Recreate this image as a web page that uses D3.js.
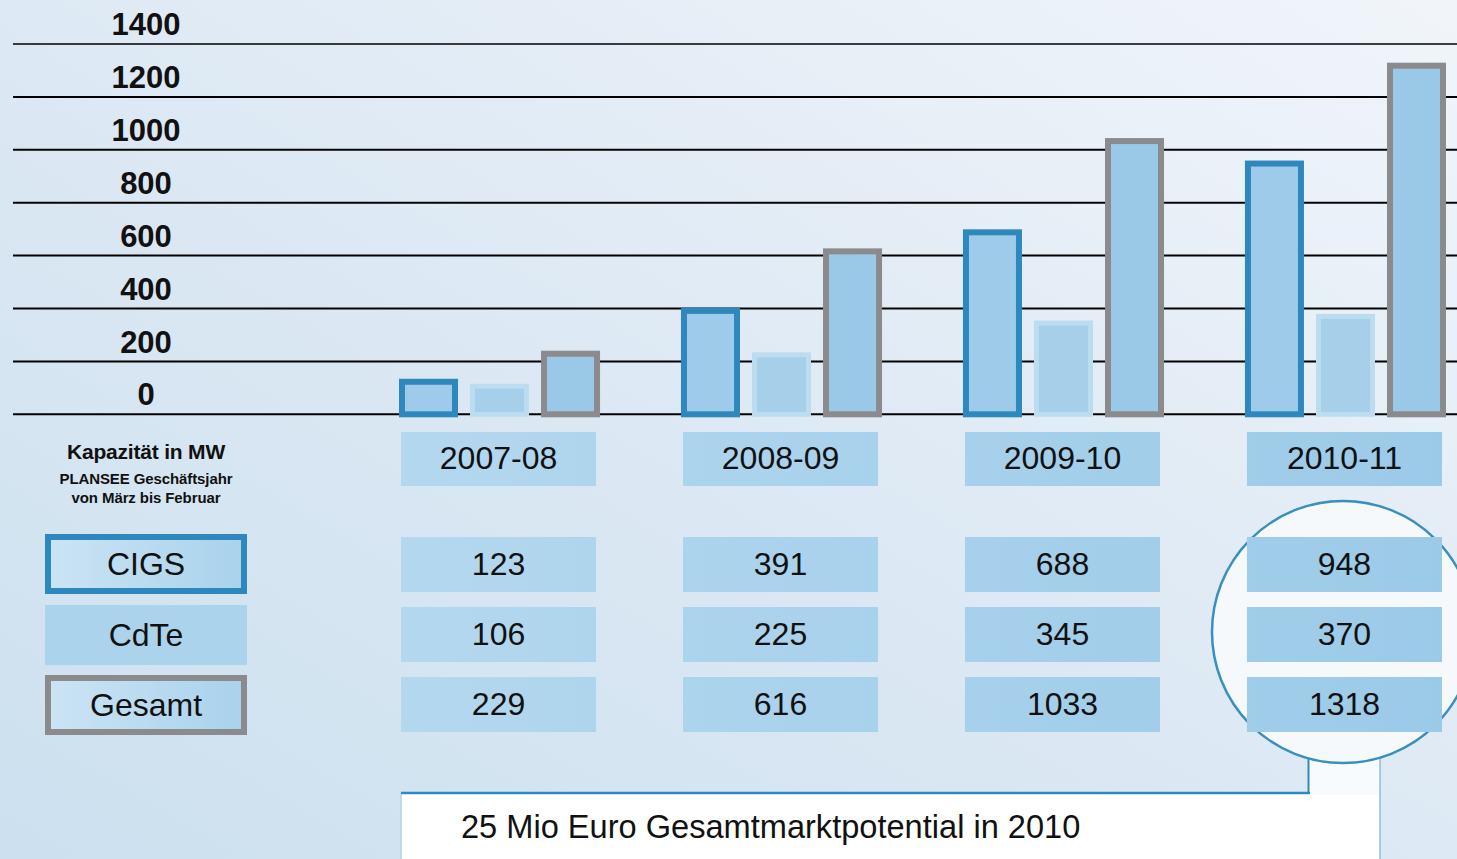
<!DOCTYPE html>
<html><head><meta charset="utf-8">
<script src="https://cdn.jsdelivr.net/npm/d3@7"></script>
<style>
html,body{margin:0;padding:0;background:#e3edf6;}
svg{display:block;}
text{font-family:"Liberation Sans",Arial,Helvetica,sans-serif;fill:#111;}
</style></head>
<body>
<svg id="c" width="1457" height="859"></svg>
<script>
const years = ["2007-08","2008-09","2009-10","2010-11"];
const series = ["CIGS","CdTe","Gesamt"];
const cigs = [123,391,688,948];
const cdte = [106,225,345,370];
const gesamt = [229,616,1033,1318];
const yTicks = [0,200,400,600,800,1000,1200,1400];
const titleLines = ["Kapazität in MW","PLANSEE Geschäftsjahr","von März bis Februar"];
const footnote = "25 Mio Euro Gesamtmarktpotential in 2010";

const values = {CIGS:cigs, CdTe:cdte, Gesamt:gesamt};
const W=1457,H=859;
const svg=d3.select("#c");
const defs=svg.append("defs");

// background gradient
const bg=defs.append("linearGradient").attr("id","bg").attr("x1","0").attr("y1","1").attr("x2","1").attr("y2","0");
bg.append("stop").attr("offset","0").attr("stop-color","#cce0ef");
bg.append("stop").attr("offset","0.5").attr("stop-color","#dde9f4");
bg.append("stop").attr("offset","1").attr("stop-color","#f1f5fa");
svg.append("rect").attr("width",W).attr("height",H).attr("fill","url(#bg)");

const boxG=defs.append("linearGradient").attr("id","boxg").attr("gradientUnits","userSpaceOnUse")
  .attr("x1",40).attr("y1",0).attr("x2",1450).attr("y2",0);
boxG.append("stop").attr("offset","0").attr("stop-color","#bcdcf1");
boxG.append("stop").attr("offset","1").attr("stop-color","#9bcae8");

const legG=defs.append("linearGradient").attr("id","legg").attr("x1","0").attr("y1","0").attr("x2","1").attr("y2","0");
legG.append("stop").attr("offset","0").attr("stop-color","#cbe4f4");
legG.append("stop").attr("offset","1").attr("stop-color","#a9d2ec");

const y=d3.scaleLinear().domain([0,1400]).range([414.3,44]);
const x0=d3.scaleBand().domain(years).range([399,1446]).paddingInner(0.287).paddingOuter(0);
const x1=d3.scaleBand().domain(series).range([0,x0.bandwidth()]).paddingInner(0.169).paddingOuter(0);

// gridlines + tick labels
const grid=svg.append("g");
grid.selectAll("line").data(yTicks).join("line")
  .attr("x1",13).attr("x2",W).attr("y1",d=>y(d)).attr("y2",d=>y(d))
  .attr("stroke","#000").attr("stroke-width",d=>d===1400?1.4:2);
grid.selectAll("text").data(yTicks).join("text")
  .attr("x",146).attr("y",d=>y(d)-20).attr("dy","0.36em")
  .attr("text-anchor","middle").attr("font-size",31).attr("font-weight","bold")
  .text(d=>d);

const stroke={CIGS:"#2e88bd",CdTe:"#bcdcf0",Gesamt:"#8b8b8d"};
const fill={CIGS:"#9dcbe9",CdTe:"#a6cfea",Gesamt:"#9ac9e8"};
const sw={CIGS:6,CdTe:5,Gesamt:6};

// bars
const groups=svg.append("g").selectAll("g").data(years).join("g")
  .attr("transform",d=>`translate(${x0(d)},0)`);
groups.selectAll("rect").data((d,i)=>series.map(s=>({s,v:values[s][i]}))).join("rect")
  .attr("x",d=>x1(d.s)+sw[d.s]/2)
  .attr("width",d=>x1.bandwidth()-sw[d.s])
  .attr("y",d=>y(d.v))
  .attr("height",d=>y(0)-y(d.v))
  .attr("fill",d=>fill[d.s]).attr("stroke",d=>stroke[d.s]).attr("stroke-width",d=>sw[d.s]);

// magnifier stem, bottom box, circle
const boxL=401, boxR=1380, boxT=793;
svg.append("rect").attr("x",boxL).attr("y",boxT).attr("width",boxR-boxL).attr("height",H-boxT+5).attr("fill","#ffffff");
svg.append("line").attr("x1",boxL).attr("x2",boxL).attr("y1",boxT).attr("y2",H).attr("stroke","#b5d3ea").attr("stroke-width",1.5);
svg.append("rect").attr("x",1308).attr("y",740).attr("width",72).attr("height",boxT-740+2).attr("fill","#f7fbfd");
svg.append("line").attr("x1",boxL).attr("x2",1310).attr("y1",boxT).attr("y2",boxT).attr("stroke","#2f8abd").attr("stroke-width",2.5);
svg.append("line").attr("x1",1308.5).attr("x2",1308.5).attr("y1",740).attr("y2",boxT).attr("stroke","#2f8abd").attr("stroke-width",2);
svg.append("line").attr("x1",1380).attr("x2",1380).attr("y1",740).attr("y2",H).attr("stroke","#7fb7dc").attr("stroke-width",1.3);
svg.append("circle").attr("cx",1343).attr("cy",632).attr("r",131).attr("fill","#f6f9fc").attr("stroke","#3a8fbf").attr("stroke-width",2.5);

svg.append("text").attr("x",461).attr("y",826).attr("dy","0.36em").attr("font-size",32.6).text(footnote);

// year label boxes
const bw=x0.bandwidth();
const yl=svg.append("g");
yl.selectAll("rect").data(years).join("rect")
  .attr("x",d=>x0(d)+2).attr("y",432).attr("width",bw-6).attr("height",54).attr("fill","url(#boxg)");
yl.selectAll("text").data(years).join("text")
  .attr("x",d=>x0(d)+2+(bw-6)/2).attr("y",457.5).attr("dy","0.36em")
  .attr("text-anchor","middle").attr("font-size",32).text(d=>d);

// value rows
const rowY={CIGS:537,CdTe:607,Gesamt:677};
series.forEach(s=>{
  const g=svg.append("g");
  g.selectAll("rect").data(years).join("rect")
    .attr("x",d=>x0(d)+2).attr("y",rowY[s]).attr("width",bw-6).attr("height",55).attr("fill","url(#boxg)");
  g.selectAll("text").data(values[s]).join("text")
    .attr("x",(d,i)=>x0(years[i])+2+(bw-6)/2).attr("y",rowY[s]+26).attr("dy","0.36em")
    .attr("text-anchor","middle").attr("font-size",32).text(d=>d);
});

// legend
const legY={CIGS:534,CdTe:605,Gesamt:675};
series.forEach(s=>{
  const hasBorder=s!=="CdTe";
  const b=hasBorder?6:0;
  svg.append("rect").attr("x",45+b/2).attr("y",legY[s]+b/2).attr("width",202-b).attr("height",60-b)
    .attr("fill",s==="CdTe"?"#acd3ec":"url(#legg)")
    .attr("stroke",hasBorder?stroke[s]:"none").attr("stroke-width",b);
  svg.append("text").attr("x",146).attr("y",legY[s]+29).attr("dy","0.36em")
    .attr("text-anchor","middle").attr("font-size",32).text(s);
});

// title
svg.append("text").attr("x",146).attr("y",451).attr("dy","0.36em").attr("text-anchor","middle")
  .attr("font-size",21).attr("font-weight","bold").attr("letter-spacing",-0.2).text(titleLines[0]);
svg.append("text").attr("x",146).attr("y",479).attr("dy","0.36em").attr("text-anchor","middle")
  .attr("font-size",15).attr("font-weight","bold").attr("letter-spacing",-0.1).text(titleLines[1]);
svg.append("text").attr("x",146).attr("y",498).attr("dy","0.36em").attr("text-anchor","middle")
  .attr("font-size",15).attr("font-weight","bold").attr("letter-spacing",-0.1).text(titleLines[2]);
</script>
</body></html>
